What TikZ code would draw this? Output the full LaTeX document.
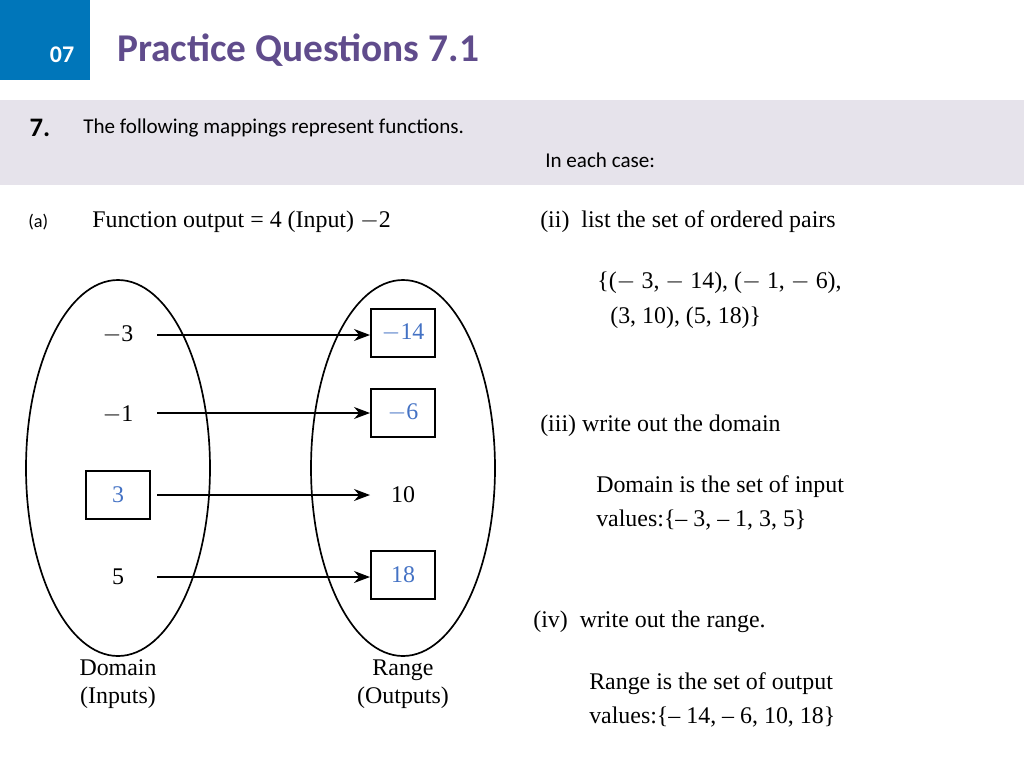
\documentclass[tikz,border=0pt]{standalone}
\usepackage{fontspec}
\setmainfont{Liberation Serif}
\newfontfamily\calib{Carlito}
\usetikzlibrary{arrows.meta}
\definecolor{tabblue}{RGB}{0,118,186}
\definecolor{titlepurple}{RGB}{96,76,140}
\definecolor{bandgray}{RGB}{230,227,235}
\definecolor{numblue}{RGB}{68,114,196}
\tikzset{
  txt/.style={anchor=west, inner sep=0pt, font=\fontsize{17}{20}\selectfont},
  num/.style={inner sep=0pt, font=\fontsize{17}{20}\selectfont},
  boxnum/.style={draw, thick, minimum width=16mm, minimum height=12mm, text=numblue, font=\fontsize{17}{20}\selectfont},
  sans/.style={anchor=west, inner sep=0pt, font=\calib\fontsize{15}{18}\selectfont},
  maparrow/.style={thick, -{Stealth[length=4mm,width=3mm]}}
}
\begin{document}
\begin{tikzpicture}[x=0.25mm,y=-0.25mm]
    \useasboundingbox (0,0) rectangle (1024,768);
    % header
    \fill [tabblue] (0,0) rectangle (90,80);
    \node (tab) at (62,55) [text=white, font=\calib\bfseries\fontsize{17}{20}\selectfont] {07};
    \node (title) at (117,50) [anchor=west, inner sep=0pt, text=titlepurple, font=\calib\bfseries\fontsize{28}{32}\selectfont] {Practice Questions 7.1};
    \fill [bandgray] (0,100) rectangle (1024,185);
    \node (qno) at (40,128) [font=\calib\bfseries\fontsize{19}{22}\selectfont] {7.};
    \node (intro) at (83,128) [sans] {The following mappings represent functions.};
    \node (each) at (545,160) [sans] {In each case:};
    
    % part (a)
    \node (parta) at (28,222) [sans, font=\calib\fontsize{13}{15}\selectfont] {(a)};
    \node (rule) at (92,222) [txt] {Function output = 4 (Input) $-$2};
    
    \draw [very thick] (118,468) ellipse [x radius=92, y radius=188];
    \draw [very thick] (403,468) ellipse [x radius=92, y radius=188];
    
    \node (x1) at (118,335) [num] {$-$3};
    \node (x2) at (118,415) [num] {$-$1};
    \node (x3) at (118,495) [boxnum] {3};
    \node (x4) at (118,577) [num] {5};
    
    \node (y1) at (403,333) [boxnum] {$-$14};
    \node (y2) at (403,413) [boxnum] {$-$6};
    \node (y3) at (403,495) [num] {10};
    \node (y4) at (403,575) [boxnum] {18};
    
    \coordinate (s1) at (157,335); \coordinate (e1) at (370,335);
    \coordinate (s2) at (157,413); \coordinate (e2) at (370,413);
    \coordinate (s3) at (157,495); \coordinate (e3) at (370,495);
    \coordinate (s4) at (157,577); \coordinate (e4) at (370,577);
    \foreach \i in {1,...,4}
        \draw [maparrow] (s\i) -- (e\i);
    
    \node (dom) at (118,684) [num, align=center] {Domain\\(Inputs)};
    \node (ran) at (403,684) [num, align=center] {Range\\(Outputs)};
    
    % answers
    \node (q2) at (540,222) [txt] {(ii)\ \ list the set of ordered pairs};
    \node (a2a) at (597,283) [txt] {\{($-$ 3, $-$ 14), ($-$ 1, $-$ 6),};
    \node (a2b) at (610,318) [txt] {(3, 10), (5, 18)\}};
    \node (q3) at (540,426) [txt] {(iii) write out the domain};
    \node (a3a) at (596,487) [txt] {Domain is the set of input};
    \node (a3b) at (596,520) [txt] {values:\{-- 3, -- 1, 3, 5\}};
    \node (q4) at (533,622) [txt] {(iv)\ \ write out the range.};
    \node (a4a) at (589,684) [txt] {Range is the set of output};
    \node (a4b) at (589,717) [txt] {values:\{-- 14, -- 6, 10, 18\}};
\end{tikzpicture}
\end{document}
